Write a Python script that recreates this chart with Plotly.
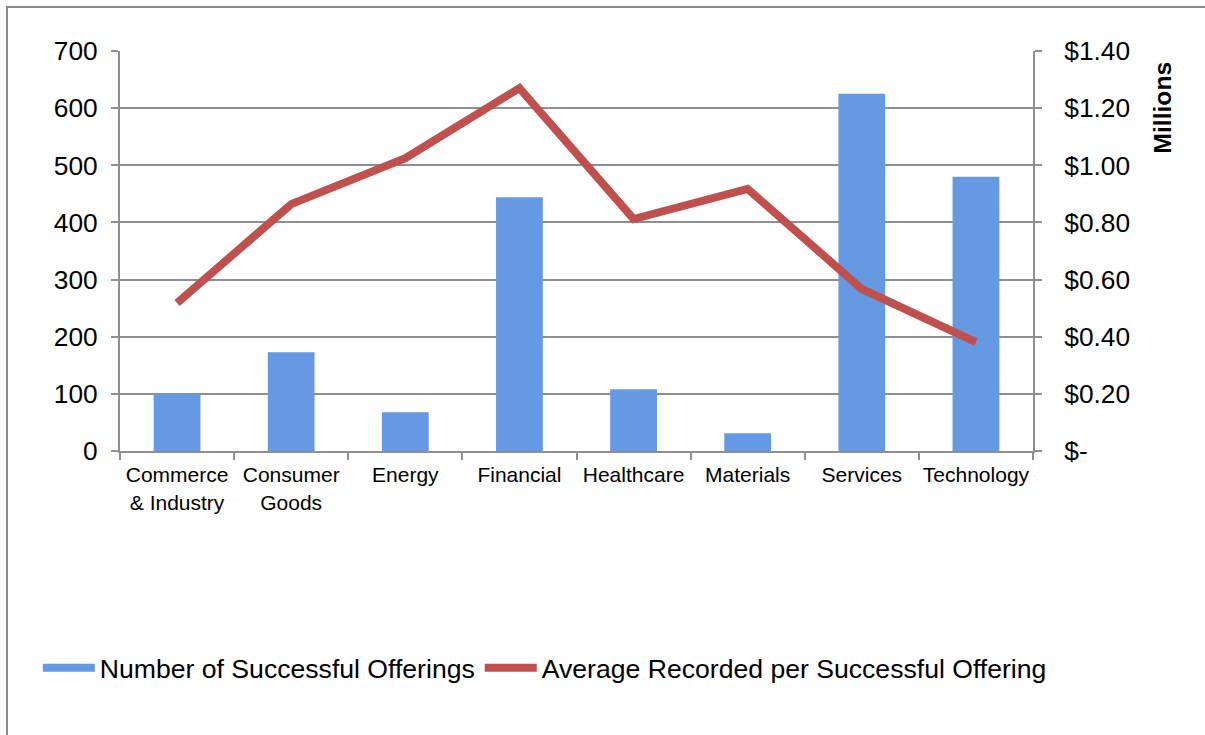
import plotly.graph_objects as go

categories = ["Commerce<br>& Industry", "Consumer<br>Goods", "Energy", "Financial",
              "Healthcare", "Materials", "Services", "Technology"]
offerings = [100, 173, 68, 444, 108, 31, 625, 480]
avg_recorded_millions = [0.518, 0.864, 1.025, 1.27, 0.812, 0.917, 0.567, 0.381]

left_ticks = [0, 100, 200, 300, 400, 500, 600, 700]
right_tickvals = [0, 0.2, 0.4, 0.6, 0.8, 1.0, 1.2, 1.4]
right_ticktext = ["$-", "$0.20", "$0.40", "$0.60", "$0.80", "$1.00", "$1.20", "$1.40"]

FONT = "Liberation Sans, Arial, sans-serif"
GRID = "#8f8f8f"
BAR = "#6699E3"
LINE = "#C0504D"

fig = go.Figure()
fig.add_trace(go.Bar(
    x=categories, y=offerings, name="Number of Successful Offerings",
    marker=dict(color=BAR, line=dict(width=0)), yaxis="y", showlegend=False,
))
fig.add_trace(go.Scatter(
    x=[None], y=[None], mode="lines", name="Number of Successful Offerings",
    line=dict(color=BAR, width=8), yaxis="y",
))
fig.add_trace(go.Scatter(
    x=categories, y=avg_recorded_millions, mode="lines",
    name="Average Recorded per Successful Offering",
    line=dict(color=LINE, width=8), yaxis="y2",
))

fig.update_layout(
    width=1205, height=735,
    margin=dict(l=120, r=172, t=51, b=284),
    paper_bgcolor="white", plot_bgcolor="white",
    font=dict(family=FONT, color="black"),
    bargap=0.59,
    xaxis=dict(
        showline=True, linecolor=GRID, linewidth=2,
        ticks="outside", tickson="boundaries", ticklen=7, tickcolor=GRID, tickwidth=2,
        tickfont=dict(size=21), showgrid=False, tickangle=0, ticklabelstandoff=4,
    ),
    yaxis=dict(
        range=[0, 700], tickvals=left_ticks, showgrid=True, gridcolor=GRID, gridwidth=2,
        showline=True, linecolor=GRID, linewidth=2,
        ticks="outside", ticklen=7, tickcolor=GRID, tickwidth=2,
        tickfont=dict(size=26.3), zeroline=False, ticklabelstandoff=8,
    ),
    yaxis2=dict(
        range=[0, 1.4], overlaying="y", side="right",
        tickvals=right_tickvals, ticktext=right_ticktext, showgrid=False,
        showline=True, linecolor=GRID, linewidth=2,
        ticks="outside", ticklen=7, tickcolor=GRID, tickwidth=2,
        tickfont=dict(size=26.3), zeroline=False, ticklabelstandoff=17,
    ),
    legend=dict(
        orientation="h", x=-0.09, xanchor="left", y=-0.5425, yanchor="middle",
        font=dict(size=26.6), itemwidth=52, traceorder="normal",
    ),
    annotations=[dict(
        text="<b>Millions</b>", textangle=-90, xref="paper", yref="paper",
        x=1.142, y=0.8575, xanchor="center", yanchor="middle",
        showarrow=False, font=dict(size=24.7),
    )],
    shapes=[dict(
        type="rect", xref="paper", yref="paper",
        x0=-0.1238, x1=1.5, y0=-1.5, y1=1.11,
        line=dict(color="#8a8a8a", width=2), layer="below",
    )],
)

fig.write_html("out.html")
